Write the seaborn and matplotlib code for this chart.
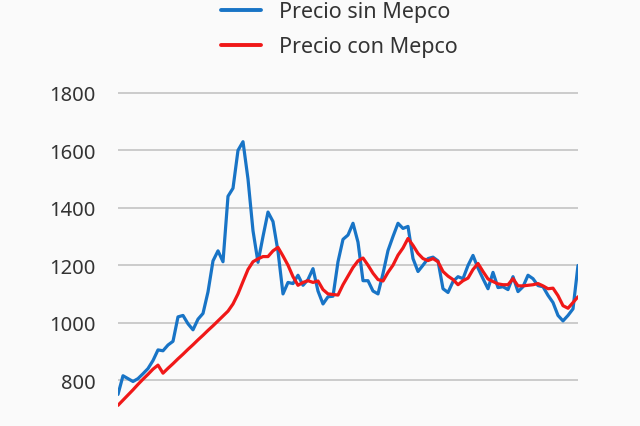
import numpy as np
import pandas as pd
import matplotlib
matplotlib.use("Agg")
import matplotlib.pyplot as plt
import seaborn as sns

# Valores (un punto por periodo)
precio_sin_mepco = [
    750, 815, 805, 795, 805, 822, 840, 868, 905, 902,
    922, 935, 1020, 1025, 996, 975, 1012, 1032, 1107, 1215,
    1250, 1212, 1440, 1468, 1600, 1630, 1500, 1320, 1210, 1300,
    1385, 1352, 1248, 1100, 1140, 1136, 1165, 1130, 1150, 1188,
    1110, 1065, 1090, 1092, 1212, 1290, 1305, 1346, 1280, 1146,
    1146, 1110, 1100, 1171, 1251, 1300, 1346, 1328, 1335, 1223,
    1178, 1200, 1223, 1228, 1215, 1118, 1105, 1143, 1160, 1153,
    1199, 1234, 1190, 1153, 1118, 1175, 1122, 1125, 1115, 1160,
    1108, 1125, 1165, 1153, 1129, 1125, 1095, 1070, 1025, 1006,
    1025, 1048, 1199,
]
precio_con_mepco = [
    712, 730, 748, 766, 785, 803, 820, 838, 852, 824,
    841, 857, 874, 890, 907, 923, 940, 956, 973, 989,
    1006, 1023, 1040, 1065, 1100, 1143, 1185, 1212, 1222, 1230,
    1230, 1250, 1262, 1232, 1200, 1160, 1130, 1140, 1146, 1140,
    1145, 1115, 1100, 1098, 1096, 1132, 1162, 1192, 1215, 1225,
    1200, 1172, 1150, 1145, 1175, 1200, 1235, 1260, 1293, 1269,
    1241, 1223, 1216, 1223, 1212, 1178, 1162, 1150, 1132, 1146,
    1155, 1185, 1206, 1178, 1152, 1143, 1135, 1132, 1132, 1153,
    1128, 1128, 1130, 1132, 1136, 1128, 1118, 1120, 1094, 1059,
    1050, 1070, 1090,
]
periodo = list(range(len(precio_sin_mepco)))
y_ticks = [800, 1000, 1200, 1400, 1600, 1800]
series = ["Precio sin Mepco", "Precio con Mepco"]
colores = ["#1874c6", "#f01818"]

df = pd.DataFrame({
    "periodo": periodo * 2,
    "precio": precio_sin_mepco + precio_con_mepco,
    "serie": [series[0]] * len(periodo) + [series[1]] * len(periodo),
})

sns.set_style("white")
plt.rcParams["font.family"] = ["Noto Sans", "DejaVu Sans"]

fig = plt.figure(figsize=(6.4, 4.27), dpi=100)
fig.patch.set_facecolor("#fafafa")
ax = fig.add_axes([118 / 640, 0, 460 / 640, (427 - 85) / 427])
ax.set_facecolor("#fafafa")

sns.lineplot(data=df, x="periodo", y="precio", hue="serie",
             palette=dict(zip(series, colores)), linewidth=2.3, ax=ax)

ax.set_xlim(periodo[0], periodo[-1])
ax.set_ylim(640, 1831)
ax.set_yticks(y_ticks)
ax.set_xticks([])
ax.set_xlabel("")
ax.set_ylabel("")
ax.grid(axis="y", color="#c8c8c8", linewidth=1.3)
ax.set_axisbelow(True)
for s in ax.spines.values():
    s.set_visible(False)
ax.tick_params(axis="y", length=0, pad=16, labelsize=14.5, labelcolor="#333333")

handles, labels = ax.get_legend_handles_labels()
ax.get_legend().remove()
leg = fig.legend(handles, labels, loc="upper center", bbox_to_anchor=(0.53, 1.04),
                 frameon=False, fontsize=15.5, labelspacing=0.65,
                 handlelength=1.86, handletextpad=0.84)
for t in leg.get_texts():
    t.set_color("#333333")
for h in leg.get_lines():
    h.set_linewidth(2.8)

fig.savefig("out.png", dpi=100, facecolor=fig.get_facecolor())
